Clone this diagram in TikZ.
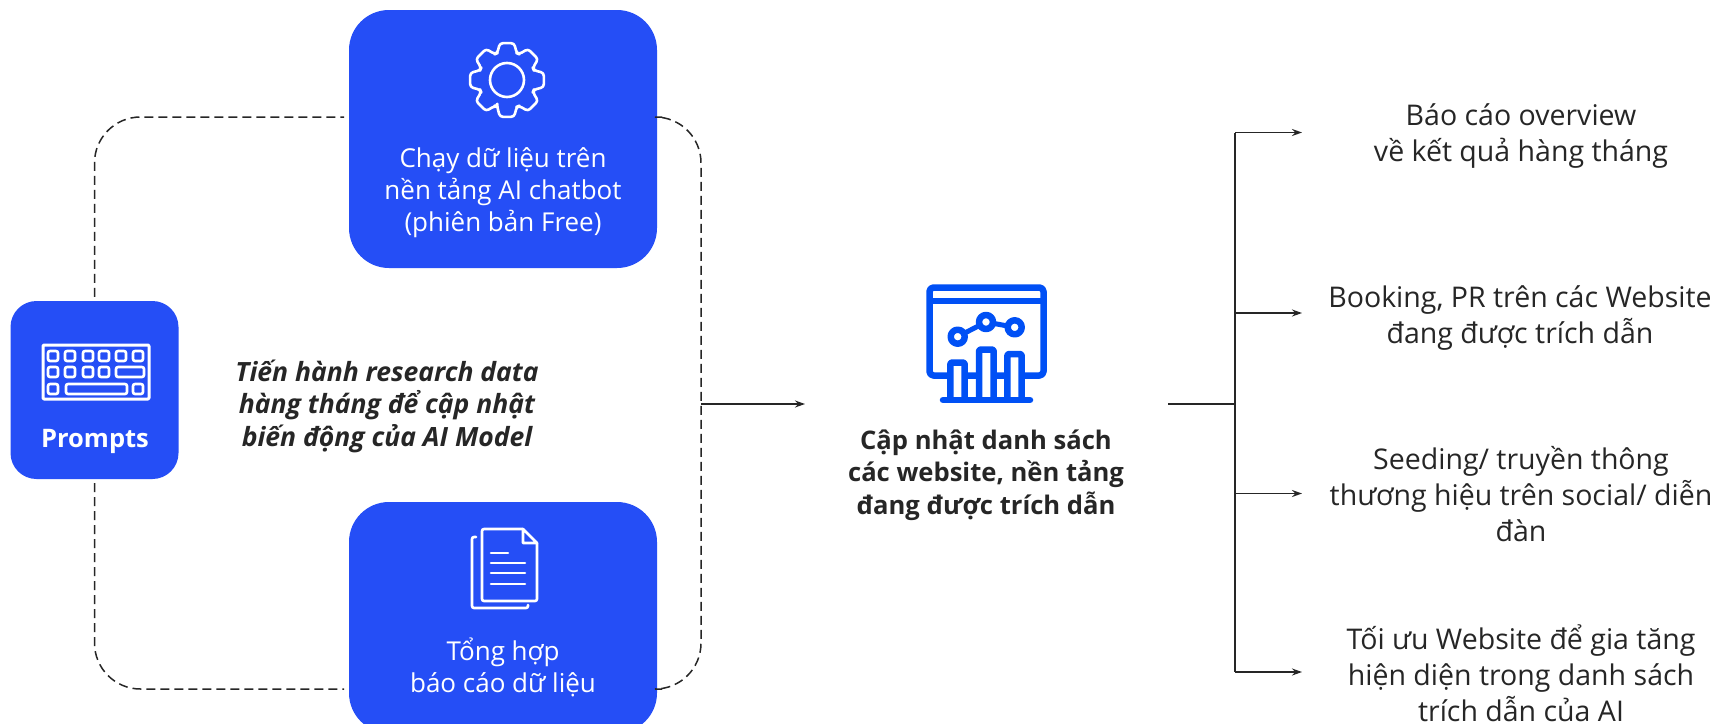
\documentclass[tikz,border=0pt]{standalone}
\usepackage{fontspec}
\setmainfont{Open Sans}
\usetikzlibrary{arrows.meta}
\definecolor{boxblue}{HTML}{254EF6}
\definecolor{iconblue}{HTML}{0050F5}
\definecolor{ink}{HTML}{262626}
\tikzset{
  x=1pt,y=-1pt,
  bluebox/.style={fill=boxblue,draw=none,inner sep=0pt,rounded corners=40pt,minimum width=308pt,minimum height=258pt},
  promptbox/.style={fill=boxblue,draw=none,inner sep=0pt,rounded corners=26pt,minimum width=168pt,minimum height=178pt},
  dashline/.style={draw=ink,line width=1.5pt,dash pattern=on 9pt off 5pt,rounded corners=46pt},
  thin line/.style={draw=ink,line width=1.5pt},
  arrowline/.style={thin line,-{Stealth[length=10pt,width=7pt]}},
  whitetext/.style={text=white,align=center,inner sep=0pt,font=\fontsize{26}{32}\selectfont},
  darktext/.style={text=ink,align=center,inner sep=0pt,font=\fontsize{28.5}{36}\selectfont},
  boldtext/.style={text=ink,align=center,inner sep=0pt,font=\fontsize{25.6}{32.5}\selectfont\bfseries},
  wicon/.style={draw=white,line width=2.6pt,line cap=round,line join=round},
  bicon/.style={draw=iconblue,line width=6.5pt,line join=round},
}
\begin{document}
\begin{tikzpicture}
\clip (0,0) rectangle (1716,723);
\fill[white] (0,0) rectangle (1716,723);
% named places
\coordinate (dashTL) at (344,117);
\coordinate (dashTR) at (662,117);
\coordinate (dashBL) at (344,689);
\coordinate (dashBR) at (662,689);
\coordinate (rightEdge) at (701,404);
\coordinate (hub) at (1235,404);
\coordinate (stemStart) at (1168,404);
\coordinate (arrowEnd) at (805,404);
\coordinate (b1) at (1302,132.5);
\coordinate (b2) at (1302,313);
\coordinate (b3) at (1302,493.5);
\coordinate (b4) at (1302,672);
% boxes
\node[bluebox] (top) at (503,139) {};
\node[bluebox,minimum height=231pt] (bottom) at (503,617.5) {};
\node[promptbox] (prompts) at (94.5,390) {};
% dashed loop
\draw[dashline] (prompts.north) ++(0,-4) |- (dashTL);
\draw[dashline] (prompts.south) ++(0,4) |- (dashBL);
\draw[dashline] (dashTR) -| (rightEdge) |- (dashBR);
% connectors
\draw[arrowline] (rightEdge) -- (arrowEnd);
\draw[draw=ink,line width=2pt] (stemStart) -- (hub);
\draw[thin line] (b1 -| hub) -- (b4 -| hub);
\draw[arrowline] (b1 -| hub) -- (b1);
\draw[arrowline] (b2 -| hub) -- (b2);
\draw[arrowline] (b3 -| hub) -- (b3);
\draw[arrowline] (b4 -| hub) -- (b4);
% gear
\begin{scope}[shift={(507,80)}]
\draw[wicon,rounded corners=3pt] (110:28.5)
  \foreach \a in {90,45,0,-45,-90,-135,-180,-225} { -- (\a+20:28.5) -- (\a+11:37.5) -- (\a-11:37.5) -- (\a-20:28.5) } -- cycle;
\draw[wicon] (0,0) circle (17);
\end{scope}
% document icon
\draw[wicon,line width=2.6pt,rounded corners=2pt] (523,529) -- (482,529) -- (482,601) -- (537,601) -- (537,543);
\draw[wicon,line width=2.6pt] (523,529) -- (537,543) -- (523,543) -- cycle;
\draw[wicon,line width=2.6pt] (491,553) -- (508,553) (491,563) -- (525,563) (491,573) -- (525,573) (491,584) -- (525,584);
\draw[wicon,line width=2.6pt,rounded corners=2pt] (476,537) -- (472,537) -- (472,608) -- (528,608) -- (528,605);
% keyboard icon
\draw[wicon,line width=3pt,rounded corners=1pt] (43,345) rectangle (149,399);
\foreach \kx in {53,70,88,104,121,138} \draw[wicon,rounded corners=2pt] (\kx-5,351) rectangle (\kx+5,361);
\foreach \kx in {53,70,88,104} \draw[wicon,rounded corners=2pt] (\kx-5,367) rectangle (\kx+5,377);
\draw[wicon,rounded corners=2pt] (116,367) rectangle (144,377);
\foreach \kx in {53,138} \draw[wicon,rounded corners=2pt] (\kx-5,384) rectangle (\kx+5,394);
\draw[wicon,rounded corners=2pt] (66,384) rectangle (127,394);
% chart icon
\draw[bicon,rounded corners=4pt] (929.5,287.5) rectangle (1043.5,375.5);
\draw[bicon] (929.5,301) -- (1043.5,301);
\draw[bicon,line width=5pt] (957.7,336.7) -- (986,322) -- (1014.7,327.3);
\foreach \cx/\cy in {957.7/336.7,986/322,1014.7/327.3} \draw[bicon,fill=white] (\cx,\cy) circle (7);
\draw[bicon,fill=white,rounded corners=2pt] (950.3,400) -- (950.3,362.5) -- (964.7,362.5) -- (964.7,400);
\draw[bicon,fill=white,rounded corners=2pt] (979,400) -- (979,349.5) -- (993.7,349.5) -- (993.7,400);
\draw[bicon,fill=white,rounded corners=2pt] (1007.3,400) -- (1007.3,354) -- (1021.7,354) -- (1021.7,400);
\draw[bicon,line cap=round] (943,400) -- (1030,400);
% labels
\node[whitetext] (topT) at (503,193) {Chạy dữ liệu trên\\nền tảng AI chatbot\\(phiên bản Free)};
\node[whitetext] (botT) at (503,667) {Tổng hợp\\báo cáo dữ liệu};
\node[whitetext,font=\fontsize{25.5}{32}\selectfont\bfseries] (prT) at (95,441) {Prompts};
\node[boldtext,font=\fontsize{26.5}{32.5}\selectfont\bfseries\itshape] (note) at (387,406) {Tiến hành research data\\hàng tháng để cập nhật\\biến động của AI Model};
\node[boldtext] (center) at (986,475) {Cập nhật danh sách\\các website, nền tảng\\đang được trích dẫn};
\node[darktext] (r1) at (1521,136) {Báo cáo overview\\về kết quả hàng tháng};
\node[darktext] (r2) at (1520,318) {Booking, PR trên các Website\\đang được trích dẫn};
\node[darktext] (r3) at (1521,494) {Seeding/ truyền thông\\thương hiệu trên social/ diễn\\đàn};
\node[darktext] (r4) at (1521,673) {Tối ưu Website để gia tăng\\hiện diện trong danh sách\\trích dẫn của AI};
\end{tikzpicture}
\end{document}
